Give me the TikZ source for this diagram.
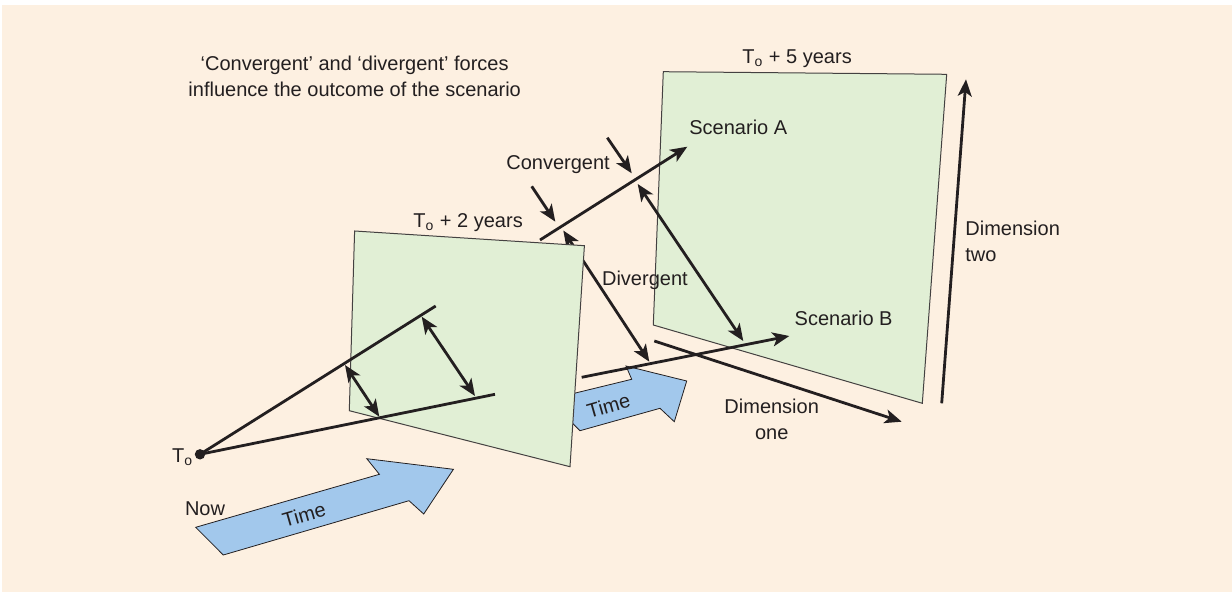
\documentclass[tikz,border=0pt]{standalone}
\usepackage{fontspec}
\setmainfont{Liberation Sans}
\usetikzlibrary{arrows.meta}

\definecolor{cream}{HTML}{FDF0E1}
\definecolor{panelgreen}{HTML}{E1EFD5}
\definecolor{timeblue}{HTML}{A2C8EC}
\definecolor{ink}{HTML}{231F20}

\tikzset{
  panel/.style={fill=panelgreen, draw=ink!85, line width=0.5pt},
  timearrow/.style={fill=timeblue, draw=ink, line width=0.4pt},
  force/.style={draw=ink, line width=1.4pt},
  lbl/.style={inner sep=0pt, font=\fontsize{10}{13}\selectfont, text=ink},
}

\begin{document}
\begin{tikzpicture}[x=0.5pt, y=-0.5pt, >={Stealth[length=8.5pt, width=7pt, inset=2.2pt]}]
            % Background
            \fill[white] (0,0) rectangle (1232,593);
            \fill[cream] (2,5) rectangle (1232,592);
            \useasboundingbox (0,0) rectangle (1232,593);

            % Key points
            \coordinate (T0) at (200,454.3);
            \coordinate (U) at (435.7,306);
            \coordinate (L) at (495,394.3);
            \coordinate (C) at (540,240);
            \coordinate (SA) at (687.3,146.7);
            \coordinate (D) at (581.7,377.3);
            \coordinate (SB) at (789.3,336);

            % Panel at To + 5 years
            \draw[panel] (663.3,71.7) -- (946.7,74.3) -- (922.3,403.3) -- (653.3,325) -- cycle;

            % Second time arrow (tail behind first panel)
            \draw[timearrow] (548.8,399.5) -- (631.7,379.3) -- (626,366) -- (686.7,381)
                -- (674.3,421.7) -- (660,408.3) -- (580,430.7) -- cycle;

            % Paths running behind the first panel
            \draw[force, <->] (563.3,230.5) -- (649.3,361.7);
            \draw[force, ->] (C) -- (SA);
            \draw[force, ->] (D) -- (SB);

            % Panel at To + 2 years
            \draw[panel] (354.6,231) -- (584.4,245.7) -- (570,466.7) -- (349.3,410.7) -- cycle;

            % Paths from To
            \draw[force] (T0) -- (U);
            \draw[force] (T0) -- (L);
            \draw[force, <->] (345,365) -- (379.3,416.7);
            \draw[force, <->] (421.7,316.7) -- (475,396);
            \fill[ink] (T0) circle (2.6pt);

            % First time arrow
            \draw[timearrow] (195.7,527.3) -- (379.4,474.3) -- (366.8,458.7) -- (453.4,469.3)
                -- (423.7,514) -- (409,500.7) -- (223.3,555) -- cycle;

            % Forces
            \draw[force, ->] (531.7,186.3) -- (555.3,221.7);
            \draw[force, ->] (607.3,137.7) -- (631.7,173.3);
            \draw[force, <->] (637.7,184) -- (743.3,341);

            % Dimensions
            \draw[force, ->] (654.3,341) -- (901.7,421.7);
            \draw[force, ->] (941.7,403.3) -- (966,79.3);

            % Labels
            \node[lbl, align=center] (title) at (354.7,76.6)
                {`Convergent' and `divergent' forces\\influence the outcome of the scenario};
            \node[lbl, anchor=base west] (ytwo) at (413,228) {T\textsubscript{o} + 2 years};
            \node[lbl, anchor=base west] (yfive) at (742,64) {T\textsubscript{o} + 5 years};
            \node[lbl, anchor=base west] (conv) at (506,170) {Convergent};
            \node[lbl, anchor=base west] (div) at (601.7,285.7) {Divergent};
            \node[lbl, anchor=base west] (scA) at (689,135) {Scenario A};
            \node[lbl, anchor=base west] (scB) at (794.3,326) {Scenario B};
            \node[lbl, align=left, anchor=north west] (dimtwo) at (965,220.5) {Dimension\\two};
            \node[lbl, align=center, anchor=north] (dimone) at (771.7,398.3) {Dimension\\one};
            \node[lbl, anchor=base west] (now) at (184.6,515) {Now};
            \node[lbl, anchor=base west] (tzero) at (171.7,462.5) {T\textsubscript{o}};
            \node[lbl, rotate=16] (time1) at (304,515) {Time};
            \node[lbl, rotate=16] (time2) at (608.5,405.5) {Time};
        \end{tikzpicture}
\end{document}
